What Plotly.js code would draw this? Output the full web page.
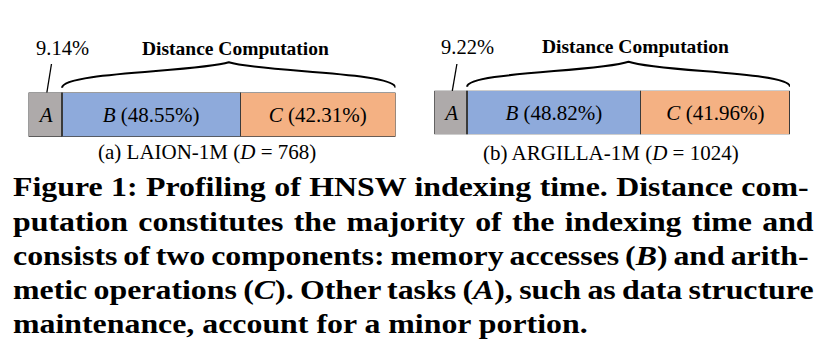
<!DOCTYPE html>
<html><head><meta charset="utf-8">
<script src="https://cdn.plot.ly/plotly-3.0.1.min.js"></script>
<style>html,body{margin:0;padding:0;background:#fff}</style>
</head><body><div id="chart" style="width:836px;height:360px"></div>
<script>
// ---- data ----
const segments = ['A', 'B', 'C'];
const laionValues = [9.14, 48.55, 42.31];
const argillaValues = [9.22, 48.82, 41.96];
const panelCaptions = ['(a) LAION-1M (<i>D</i> = 768)', '(b) ARGILLA-1M (<i>D</i> = 1024)'];
const groupLabel = 'Distance Computation';
const figureCaption = [
  'Figure 1: Profiling of HNSW indexing time. Distance com-',
  'putation constitutes the majority of the indexing time and',
  'consists of two components: memory accesses (<i>B</i>) and arith-',
  'metic operations (<i>C</i>). Other tasks (<i>A</i>), such as data structure',
  'maintenance, account for a minor portion.'
];
const segColors = ['#aeaaaa', '#8eaadb', '#f4b183'];

// ---- layout helpers ----
const W = 836, H = 360;
const yp = py => 1 - py / H;
const panels = [
  {vals: laionValues, xa: 'x', ya: 'y', dom: [28.5 / W, 395.5 / W], ydom: [yp(136.8), yp(92.5)],
   barTop: 92.5, braceEnd: 87.8, bracePeak: 62.3, labelY: 48.3, capX: 207 / W, capY: 151.5},
  {vals: argillaValues, xa: 'x2', ya: 'y2', dom: [434.3 / W, 790 / W], ydom: [yp(134.2), yp(90.8)],
   barTop: 90.8, braceEnd: 86.8, bracePeak: 61.7, labelY: 46.6, capX: 611 / W, capY: 152.5}
];

const font = {family: 'Liberation Serif, Times New Roman, serif', color: '#000'};
const traces = [], shapes = [], annotations = [];

panels.forEach((p, pi) => {
  const pxPerUnit = (p.dom[1] - p.dom[0]) * W / 100;
  const u = px => px / pxPerUnit;
  p.vals.forEach((v, i) => {
    traces.push({
      type: 'bar', orientation: 'h', x: [v], y: [0], width: 1,
      xaxis: p.xa, yaxis: p.ya, showlegend: false, hoverinfo: 'skip',
      marker: {color: segColors[i], line: {color: '#3a3a3a', width: 1.2}},
      text: [i === 0 ? '<i>' + segments[i] + '</i>' : '<i>' + segments[i] + '</i> (' + v.toFixed(2) + '%)'],
      textposition: 'inside', insidetextanchor: 'middle', constraintext: 'none',
      textfont: Object.assign({}, font, {size: 21})
    });
  });
  const a = p.vals[0];
  const total = p.vals.reduce((s, v) => s + v, 0);
  const xm = (a + total) / 2;
  // leader line from segment A to its percentage
  shapes.push({type: 'line', xref: p.xa, yref: 'paper',
    x0: a / 2 + u(1.6), y0: yp(p.barTop), x1: a / 2 + u(6.2), y1: yp(64),
    line: {color: '#000', width: 1.3}});
  // curly brace over B + C
  const yE = yp(p.braceEnd), yC = yp(72), yP = yp(p.bracePeak);
  const path = 'M ' + a + ' ' + yE +
    ' C ' + a + ' ' + yC + ' ' + (xm - u(30)) + ' ' + yC + ' ' + xm + ' ' + yP +
    ' C ' + (xm + u(30)) + ' ' + yC + ' ' + total + ' ' + yC + ' ' + total + ' ' + yE;
  shapes.push({type: 'path', xref: p.xa, yref: 'paper', path: path,
    line: {color: '#000', width: 2}});
  annotations.push({xref: p.xa, yref: 'paper', x: a, y: yp(p.labelY), text: a.toFixed(2) + '%',
    showarrow: false, xanchor: 'center', yanchor: 'middle', font: Object.assign({}, font, {size: 20.5})});
  annotations.push({xref: p.xa, yref: 'paper', x: xm + u(7), y: yp(p.labelY), text: groupLabel,
    showarrow: false, xanchor: 'center', yanchor: 'middle',
    font: Object.assign({}, font, {size: 19.5, weight: 'bold'})});
  annotations.push({xref: 'paper', yref: 'paper', x: p.capX, y: yp(p.capY), text: panelCaptions[pi],
    showarrow: false, xanchor: 'center', yanchor: 'middle', font: Object.assign({}, font, {size: 21})});
});

const capStart = annotations.length;
const capBaselines = [196, 231, 265, 299, 333];
figureCaption.forEach((line, i) => {
  annotations.push({xref: 'paper', yref: 'paper', x: 11 / W, y: yp(capBaselines[i] - 9.1), text: line,
    showarrow: false, xanchor: 'left', yanchor: 'middle', align: 'left',
    font: Object.assign({}, font, {size: 27, weight: 'bold'})});
});

const layout = {
  width: W, height: H, margin: {l: 0, r: 0, t: 0, b: 0},
  paper_bgcolor: '#fff', plot_bgcolor: 'rgba(0,0,0,0)',
  barmode: 'stack', bargap: 0,
  xaxis: {domain: panels[0].dom, range: [0, 100], visible: false, fixedrange: true, anchor: 'y'},
  yaxis: {domain: panels[0].ydom, range: [-0.5, 0.5], visible: false, fixedrange: true, anchor: 'x'},
  xaxis2: {domain: panels[1].dom, range: [0, 100], visible: false, fixedrange: true, anchor: 'y2'},
  yaxis2: {domain: panels[1].ydom, range: [-0.5, 0.5], visible: false, fixedrange: true, anchor: 'x2'},
  shapes: shapes, annotations: annotations
};

Plotly.newPlot('chart', traces, layout, {staticPlot: true}).then(gd => {
  // typeset the caption: widen the glyphs like the original face, then justify lines 1-4
  const targets = [796, 801, 796, 801, 575];
  const els = figureCaption.map((_, i) =>
    gd.querySelector('g.annotation[data-index="' + (capStart + i) + '"] text.annotation-text'));
  if (els.some(e => !e)) return;
  const info = els.map(e => ({w: e.getComputedTextLength(),
    s: (e.textContent.match(/ /g) || []).length}));
  const f = targets[4] / info[4].w;
  els.forEach((e, i) => {
    const x0 = parseFloat(e.getAttribute('x')) || 0;
    const prev = e.getAttribute('transform') || '';
    e.setAttribute('transform', prev + ' translate(' + x0 + ',0) scale(' + f + ',1) translate(' + (-x0) + ',0)');
    if (i < 4) {
      const ws = (targets[i] / f - info[i].w) / info[i].s;
      e.style.wordSpacing = ws + 'px';
    }
  });
});
</script>
</body></html>
